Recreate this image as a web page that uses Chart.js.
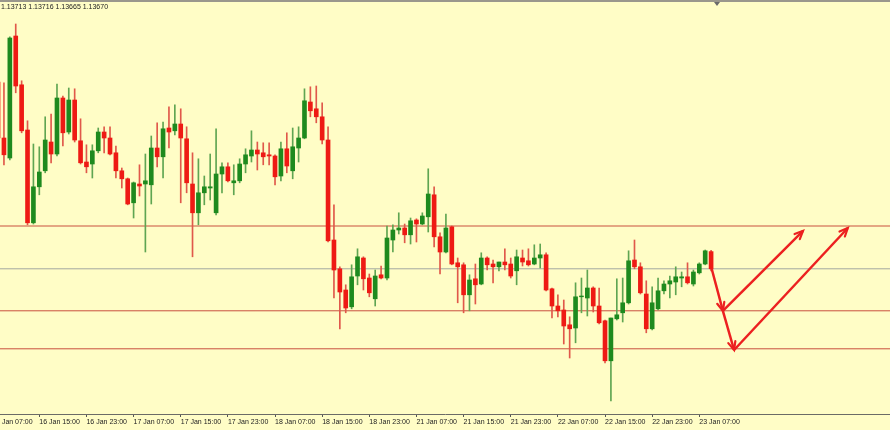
<!DOCTYPE html>
<html>
<head>
<meta charset="utf-8">
<script src="https://cdn.jsdelivr.net/npm/chart.js@4.4.1/dist/chart.umd.min.js"></script>
<style>
  html, body { margin: 0; padding: 0; background: #fffdc6; }
  #wrap { position: relative; width: 890px; height: 430px; background: #fffdc6; overflow: hidden; }
  #topline { position: absolute; left: 0; top: 0; width: 890px; height: 2px; background: #9a978c; }
  #shift { position: absolute; left: 714px; top: 2px; width: 0; height: 0;
           border-left: 3px solid transparent; border-right: 3px solid transparent; border-top: 4px solid #6a6a6a; }
  #ohlc { position: absolute; left: 1px; top: 3px; font: 7px "Liberation Sans", Arial, sans-serif; color: #222; white-space: nowrap; }
  canvas { position: absolute; left: 0; top: 0; }
</style>
</head>
<body>
<div id="wrap">
  <canvas id="chart" width="890" height="430"></canvas>
  <div id="topline"></div>
  <div id="shift"></div>
  <div id="ohlc">1.13713 1.13716 1.13665 1.13670</div>
</div>
<script>
// EURUSD H1, 16 Jan 08:00 .. 23 Jan 09:00 (one entry per hourly bar)
const open = [
  1.14137, 1.13997, 1.13947, 1.14252, 1.14130, 1.14017, 1.13785, 1.13875, 1.13915, 1.13987,
  1.13957, 1.14097, 1.14012, 1.14092, 1.13990, 1.13937, 1.13932, 1.13965, 1.14012, 1.13997,
  1.13960, 1.13915, 1.13895, 1.13835, 1.13882, 1.13882, 1.13880, 1.13972, 1.13950, 1.14022,
  1.14015, 1.14032, 1.13995, 1.13882, 1.13810, 1.13860, 1.13872, 1.13810, 1.13907, 1.13925,
  1.13885, 1.13890, 1.13932, 1.13952, 1.13967, 1.13960, 1.13955, 1.13952, 1.13902, 1.13970,
  1.13915, 1.13972, 1.13997, 1.14087, 1.14070, 1.14050, 1.13992, 1.13742, 1.13670, 1.13617,
  1.13575, 1.13652, 1.13697, 1.13647, 1.13595, 1.13655, 1.13647, 1.13742, 1.13767, 1.13772,
  1.13755, 1.13792, 1.13782, 1.13800, 1.13855, 1.13750, 1.13712, 1.13775, 1.13685, 1.13680,
  1.13605, 1.13645, 1.13632, 1.13697, 1.13682, 1.13675, 1.13687, 1.13682, 1.13665, 1.13697,
  1.13690, 1.13682, 1.13697, 1.13705, 1.13620, 1.13577, 1.13567, 1.13530, 1.13522, 1.13600,
  1.13597, 1.13622, 1.13577, 1.13540, 1.13440, 1.13545, 1.13560, 1.13585, 1.13692, 1.13675,
  1.13607, 1.13520, 1.13570, 1.13615, 1.13632, 1.13637, 1.13647, 1.13650, 1.13632, 1.13660,
  1.13682, 1.13713
];
const high = [
  1.14147, 1.14135, 1.14250, 1.14282, 1.14140, 1.14040, 1.13982, 1.13975, 1.14050, 1.14057,
  1.14132, 1.14102, 1.14122, 1.14120, 1.14045, 1.13980, 1.13980, 1.14022, 1.14025, 1.14025,
  1.13977, 1.13922, 1.13897, 1.13887, 1.13930, 1.13957, 1.14002, 1.14035, 1.14037, 1.14075,
  1.14080, 1.14070, 1.14025, 1.13960, 1.13945, 1.13902, 1.13957, 1.14020, 1.13935, 1.13935,
  1.13930, 1.13945, 1.13970, 1.14015, 1.13987, 1.13985, 1.13985, 1.13955, 1.13987, 1.14010,
  1.14022, 1.14025, 1.14120, 1.14125, 1.14127, 1.14085, 1.14025, 1.13830, 1.13675, 1.13630,
  1.13680, 1.13720, 1.13700, 1.13657, 1.13667, 1.13677, 1.13777, 1.13780, 1.13810, 1.13782,
  1.13797, 1.13795, 1.13810, 1.13920, 1.13875, 1.13760, 1.13807, 1.13777, 1.13697, 1.13685,
  1.13655, 1.13682, 1.13710, 1.13700, 1.13692, 1.13687, 1.13720, 1.13697, 1.13717, 1.13717,
  1.13720, 1.13730, 1.13732, 1.13710, 1.13622, 1.13605, 1.13592, 1.13550, 1.13635, 1.13647,
  1.13667, 1.13625, 1.13622, 1.13542, 1.13547, 1.13645, 1.13647, 1.13715, 1.13742, 1.13685,
  1.13640, 1.13625, 1.13647, 1.13640, 1.13652, 1.13675, 1.13662, 1.13685, 1.13667, 1.13685,
  1.13717, 1.13716
];
const low = [
  1.13992, 1.13930, 1.13942, 1.14110, 1.14010, 1.13780, 1.13782, 1.13855, 1.13910, 1.13935,
  1.13952, 1.13977, 1.14007, 1.13987, 1.13932, 1.13910, 1.13897, 1.13960, 1.13960, 1.13955,
  1.13897, 1.13872, 1.13830, 1.13797, 1.13852, 1.13712, 1.13832, 1.13925, 1.13897, 1.13972,
  1.14005, 1.13835, 1.13860, 1.13700, 1.13780, 1.13830, 1.13842, 1.13805, 1.13860, 1.13887,
  1.13855, 1.13885, 1.13910, 1.13937, 1.13917, 1.13930, 1.13930, 1.13880, 1.13890, 1.13910,
  1.13895, 1.13937, 1.13995, 1.14050, 1.14035, 1.13982, 1.13737, 1.13597, 1.13520, 1.13560,
  1.13570, 1.13630, 1.13617, 1.13600, 1.13577, 1.13645, 1.13642, 1.13712, 1.13757, 1.13735,
  1.13732, 1.13737, 1.13780, 1.13762, 1.13725, 1.13657, 1.13710, 1.13680, 1.13585, 1.13560,
  1.13565, 1.13582, 1.13630, 1.13667, 1.13635, 1.13665, 1.13667, 1.13647, 1.13630, 1.13677,
  1.13677, 1.13680, 1.13672, 1.13615, 1.13547, 1.13550, 1.13482, 1.13447, 1.13485, 1.13560,
  1.13552, 1.13562, 1.13532, 1.13435, 1.13340, 1.13542, 1.13537, 1.13582, 1.13670, 1.13607,
  1.13510, 1.13517, 1.13567, 1.13607, 1.13597, 1.13605, 1.13625, 1.13632, 1.13627, 1.13657,
  1.13680, 1.13665
];
const close = [
  1.13997, 1.13955, 1.14247, 1.14127, 1.14015, 1.13785, 1.13875, 1.13912, 1.13992, 1.13957,
  1.14097, 1.14010, 1.14092, 1.13992, 1.13935, 1.13925, 1.13965, 1.14012, 1.13997, 1.13957,
  1.13915, 1.13895, 1.13832, 1.13885, 1.13877, 1.13890, 1.13972, 1.13950, 1.14020, 1.14012,
  1.14032, 1.13997, 1.13885, 1.13810, 1.13860, 1.13875, 1.13875, 1.13907, 1.13925, 1.13890,
  1.13890, 1.13932, 1.13955, 1.13967, 1.13957, 1.13950, 1.13952, 1.13900, 1.13970, 1.13927,
  1.13975, 1.13997, 1.14090, 1.14065, 1.14050, 1.13992, 1.13740, 1.13667, 1.13612, 1.13572,
  1.13650, 1.13700, 1.13645, 1.13610, 1.13652, 1.13647, 1.13747, 1.13767, 1.13772, 1.13755,
  1.13790, 1.13782, 1.13802, 1.13857, 1.13750, 1.13712, 1.13772, 1.13682, 1.13675, 1.13605,
  1.13642, 1.13630, 1.13697, 1.13680, 1.13675, 1.13687, 1.13680, 1.13652, 1.13700, 1.13687,
  1.13680, 1.13697, 1.13705, 1.13617, 1.13577, 1.13565, 1.13527, 1.13520, 1.13600, 1.13602,
  1.13622, 1.13577, 1.13535, 1.13440, 1.13547, 1.13555, 1.13585, 1.13690, 1.13675, 1.13610,
  1.13520, 1.13585, 1.13615, 1.13632, 1.13640, 1.13650, 1.13650, 1.13635, 1.13662, 1.13682,
  1.13715, 1.13670
];

// time axis labels, every 8 bars (bar index of each label)
const tickIdx = [-1, 7, 15, 23, 31, 39, 47, 55, 63, 71, 79, 87, 95, 103, 111, 119];
const tickLabels = [
  '16 Jan 07:00', '16 Jan 15:00', '16 Jan 23:00', '17 Jan 07:00', '17 Jan 15:00',
  '17 Jan 23:00', '18 Jan 07:00', '18 Jan 15:00', '18 Jan 23:00', '21 Jan 07:00',
  '21 Jan 15:00', '21 Jan 23:00', '22 Jan 07:00', '22 Jan 15:00', '22 Jan 23:00',
  '23 Jan 07:00'
];

// horizontal levels drawn on the chart
const redLevels = [1.13777, 1.13565, 1.13470];
const bidLevel = 1.13670;

// hand drawn arrows (bar index, price)
const arrowA = [[121.1, 1.13670], [123.0, 1.13565]];
const arrowB = [[123.0, 1.13565], [124.9, 1.13467]];
const arrowC = [[123.0, 1.13565], [136.6, 1.13765]];
const arrowD = [[124.9, 1.13467], [144.2, 1.13772]];

// visible window (bars) and price range
const xMin = 0.33, xMax = 151.36;
const yMin = 1.13307, yMax = 1.14342;

const UP = '#1e8a1e', DOWN = '#ee1a14';
const UP_WICK = '#5fa552', DOWN_WICK = '#e0584a';

const isUp = open.map((o, i) => close[i] >= o);
const bodies = open.map((o, i) => ({ x: i, y: [o, close[i]] }));
const wicks = low.map((l, i) => ({ x: i, y: [l, high[i]] }));

const levelLine = (v, color) => ({
  type: 'line',
  data: [{ x: xMin - 5, y: v }, { x: xMax + 5, y: v }],
  borderColor: color,
  borderWidth: 1,
  pointRadius: 0,
  order: 5
});

const arrowLine = (pts) => ({
  type: 'line',
  arrow: true,
  data: pts.map(p => ({ x: p[0], y: p[1] })),
  borderColor: '#ec2020',
  borderWidth: 2.5,
  pointRadius: 0,
  order: 0
});

// little V heads at the end of each drawn arrow
const arrowHeads = {
  id: 'arrowHeads',
  afterDatasetsDraw(chart) {
    const ctx = chart.ctx;
    chart.data.datasets.forEach((ds, i) => {
      if (!ds.arrow) return;
      const pts = chart.getDatasetMeta(i).data;
      const a = pts[pts.length - 2], b = pts[pts.length - 1];
      const ang = Math.atan2(b.y - a.y, b.x - a.x);
      const len = 9;
      ctx.save();
      ctx.strokeStyle = ds.borderColor;
      ctx.lineWidth = 2.2;
      ctx.lineCap = 'round';
      ctx.beginPath();
      ctx.moveTo(b.x - len * Math.cos(ang - 0.42), b.y - len * Math.sin(ang - 0.42));
      ctx.lineTo(b.x, b.y);
      ctx.lineTo(b.x - len * Math.cos(ang + 0.42), b.y - len * Math.sin(ang + 0.42));
      ctx.stroke();
      ctx.restore();
    });
  }
};

new Chart(document.getElementById('chart'), {
  type: 'bar',
  data: {
    datasets: [
      {
        data: wicks,
        backgroundColor: isUp.map(u => u ? UP_WICK : DOWN_WICK),
        barThickness: 1,
        grouped: false,
        order: 2
      },
      {
        data: bodies,
        backgroundColor: isUp.map(u => u ? UP : DOWN),
        barThickness: 4,
        grouped: false,
        order: 1
      },
      ...redLevels.map(v => levelLine(v, '#c9503f')),
      levelLine(bidLevel, '#a3a8a0'),
      arrowLine(arrowA),
      arrowLine(arrowB),
      arrowLine(arrowC),
      arrowLine(arrowD)
    ]
  },
  options: {
    responsive: false,
    animation: false,
    layout: { padding: { left: 0, right: 0, top: 0, bottom: 2.6 } },
    plugins: {
      legend: { display: false },
      tooltip: { enabled: false }
    },
    scales: {
      x: {
        type: 'linear',
        min: xMin,
        max: xMax,
        offset: false,
        grid: {
          offset: false,
          drawOnChartArea: false,
          drawTicks: true,
          tickLength: 3,
          color: '#555'
        },
        border: { display: true, color: '#6b6b66', width: 1 },
        afterBuildTicks: (s) => { s.ticks = tickIdx.map(v => ({ value: v })); },
        afterFit: (s) => { s.paddingLeft = 0; s.paddingRight = 0; },
        ticks: {
          autoSkip: false,
          maxRotation: 0,
          align: 'start',
          padding: 1,
          color: '#222',
          font: { family: 'Liberation Sans', size: 7 },
          callback: (v, i) => tickLabels[i]
        }
      },
      y: {
        display: false,
        min: yMin,
        max: yMax
      }
    }
  },
  plugins: [arrowHeads]
});
</script>
</body>
</html>
